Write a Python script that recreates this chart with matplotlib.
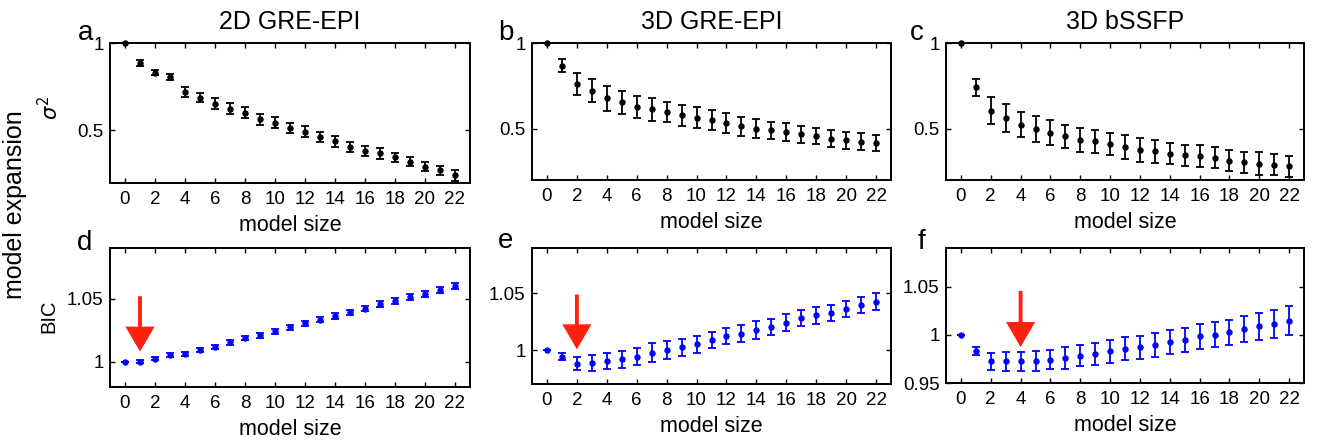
import matplotlib
matplotlib.use("Agg")
import matplotlib.pyplot as plt

plt.rcParams['font.family'] = ['Liberation Sans', 'DejaVu Sans']

# ---------------- data ----------------
model_size = list(range(23))
xtick_vals = list(range(0, 23, 2))

titles = ["2D GRE-EPI", "3D GRE-EPI", "3D bSSFP"]
letters_top = ["a", "b", "c"]
letters_bot = ["d", "e", "f"]

sigma2_a = [1.0, 0.885, 0.831, 0.804, 0.721, 0.688, 0.654, 0.625, 0.602, 0.563, 0.544, 0.515,
            0.494, 0.462, 0.438, 0.408, 0.381, 0.369, 0.346, 0.321, 0.294, 0.273, 0.244]
sigma2_a_err = [0, .015, .016, .018, .027, .028, .032, .032, .030, .030, .031, .030,
                .029, .029, .030, .029, .028, .030, .026, .025, .024, .025, .033]

sigma2_b = [1.0, 0.867, 0.761, 0.720, 0.676, 0.653, 0.627, 0.612, 0.596, 0.578, 0.563, 0.549,
            0.533, 0.514, 0.500, 0.490, 0.480, 0.467, 0.457, 0.441, 0.431, 0.424, 0.416]
sigma2_b_err = [0, .039, .065, .067, .072, .068, .066, .066, .060, .061, .062, .057,
                .059, .056, .056, .051, .051, .051, .048, .049, .051, .049, .049]

sigma2_c = [1.0, 0.741, 0.605, 0.562, 0.523, 0.498, 0.475, 0.455, 0.436, 0.426, 0.411, 0.393,
            0.377, 0.368, 0.354, 0.344, 0.339, 0.329, 0.313, 0.304, 0.296, 0.290, 0.280]
sigma2_c_err = [0, .051, .078, .082, .073, .078, .073, .068, .070, .068, .065, .068,
                .071, .066, .063, .063, .064, .061, .061, .061, .065, .060, .061]

bic_d = [1.0, 1.0, 1.0023, 1.0055, 1.0063, 1.0091, 1.0117, 1.0154, 1.0188, 1.0208, 1.0242, 1.0273,
         1.0305, 1.0331, 1.0362, 1.0390, 1.0420, 1.0456, 1.0479, 1.0513, 1.0539, 1.0565, 1.0598]
bic_d_err = [0, .0012, .0013, .0014, .0015, .0016, .0017, .0018, .0018, .0019, .0019, .0020,
             .0020, .0020, .0021, .0021, .0022, .0022, .0023, .0023, .0024, .0024, .0025]

bic_e = [1.0, 0.9942, 0.9878, 0.9884, 0.9904, 0.9919, 0.9942, 0.9977, 1.0, 1.0023, 1.0049, 1.0087,
         1.0122, 1.0145, 1.0174, 1.0203, 1.0241, 1.0282, 1.0305, 1.0326, 1.0363, 1.0398, 1.0427]
bic_e_err = [0, .0032, .0058, .0068, .0073, .0076, .0076, .0081, .0083, .0077, .0073, .0073,
             .0070, .0073, .0078, .0070, .0073, .0070, .0076, .0071, .0073, .0070, .0073]

bic_f = [1.0, 0.9834, 0.9724, 0.9724, 0.9724, 0.9724, 0.9741, 0.9759, 0.9783, 0.9800, 0.9828, 0.9855,
         0.9869, 0.9897, 0.9924, 0.9948, 0.9983, 1.0, 1.0024, 1.0059, 1.0086, 1.0110, 1.0145]
bic_f_err = [0, .0043, .0086, .0095, .0095, .0103, .0100, .0110, .0107, .0112, .0117, .0120,
             .0120, .0124, .0124, .0124, .0129, .0129, .0133, .0138, .0141, .0147, .0150]

sigma_series = [(sigma2_a, sigma2_a_err), (sigma2_b, sigma2_b_err), (sigma2_c, sigma2_c_err)]
bic_series = [(bic_d, bic_d_err), (bic_e, bic_e_err), (bic_f, bic_f_err)]
bic_ylims = [(0.98, 1.09), (0.97, 1.09), (0.95, 1.09)]
bic_yticks = [[1.0, 1.05], [1.0, 1.05], [0.95, 1.0, 1.05]]
bic_yticklabels = [["1", "1.05"], ["1", "1.05"], ["0.95", "1", "1.05"]]

# minimum-BIC arrows: x position, tail value, tip value
arrow_x = [1, 2, 4]
arrow_top = [1.0518, 1.0489, 1.0455]
arrow_tip = [1.008, 1.0006, 0.9873]

# ---------------- layout (pixel boxes: left, top, right, bottom) ----------------
W, H = 1321, 444
fig = plt.figure(figsize=(W / 100, H / 100), dpi=100)

top_boxes = [(110, 43, 470, 183), (532, 43, 891, 180), (946, 43, 1304, 180)]
bot_boxes = [(110, 248, 470, 387), (532, 248, 891, 384), (946, 248, 1304, 383)]

def make_ax(box):
    l, t, r, b = box
    return fig.add_axes([l / W, 1 - b / H, (r - l) / W, (b - t) / H])

def style(ax):
    for s in ax.spines.values():
        s.set_linewidth(1.4)
    ax.tick_params(direction='in', top=True, right=True, length=3.8, width=1.0,
                   labelsize=13.5)
    ax.tick_params(axis='x', pad=5.5)
    ax.tick_params(axis='y', pad=4.5)
    ax.set_xlim(-1, 23)
    ax.set_xticks(xtick_vals)
    ax.set_xticklabels([str(v) for v in xtick_vals])
    ax.set_xlabel("model size", fontsize=15.5, labelpad=5.5)

letter_pos_top = [(78, 40), (498, 40), (910, 40)]
letter_pos_bot = [(77, 250), (498, 248), (918, 249)]

for i in range(3):
    ax = make_ax(top_boxes[i])
    y, e = sigma_series[i]
    ax.errorbar(model_size, y, yerr=e, fmt='o', color='black', ecolor='black',
                markersize=3.6, elinewidth=1.3, capsize=3.2, capthick=1.3, clip_on=False, zorder=3)
    ax.set_ylim(0.2, 1.0)
    ax.set_yticks([0.5, 1.0])
    ax.set_yticklabels(["0.5", "1"])
    style(ax)
    ax.set_title(titles[i], fontsize=18, pad=10)
    fig.text(letter_pos_top[i][0] / W, 1 - letter_pos_top[i][1] / H, letters_top[i],
             fontsize=20, ha='left', va='baseline')

    ax2 = make_ax(bot_boxes[i])
    y, e = bic_series[i]
    ax2.errorbar(model_size, y, yerr=e, fmt='o', color='#0000ff', ecolor='#0000ff',
                 markersize=3.6, elinewidth=1.3, capsize=3.2, capthick=1.3, zorder=3)
    ax2.set_ylim(*bic_ylims[i])
    ax2.set_yticks(bic_yticks[i])
    ax2.set_yticklabels(bic_yticklabels[i])
    style(ax2)
    ax2.annotate("", xy=(arrow_x[i], arrow_tip[i]), xytext=(arrow_x[i], arrow_top[i]),
                 arrowprops=dict(arrowstyle="simple,head_length=0.9,head_width=1.05,tail_width=0.14",
                                 color='#ff2010', mutation_scale=20, shrinkA=0, shrinkB=0,
                                 linewidth=0))
    fig.text(letter_pos_bot[i][0] / W, 1 - letter_pos_bot[i][1] / H, letters_bot[i],
             fontsize=20, ha='left', va='baseline')

fig.text(50 / W, 1 - 108 / H, r"$\sigma^2$", fontsize=15, rotation=90, ha='center', va='center')
fig.text(49 / W, 1 - 316 / H, "BIC", fontsize=14.5, rotation=90, ha='center', va='center')
fig.text(15 / W, 1 - 205 / H, "model expansion", fontsize=18, rotation=90, ha='center', va='center')

fig.savefig("out.png", dpi=100)
